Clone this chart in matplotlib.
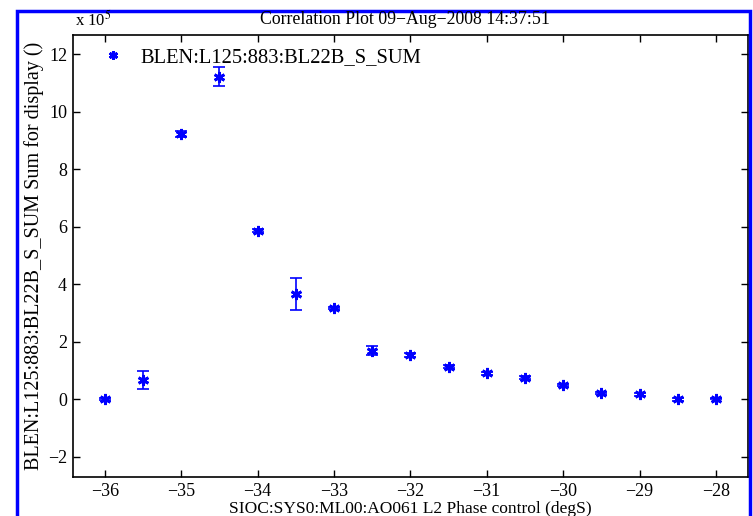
import numpy as np
import matplotlib
matplotlib.use("Agg")
import matplotlib.pyplot as plt
from matplotlib.patches import Rectangle

plt.rcParams['font.family'] = ['Liberation Serif', 'DejaVu Serif']
plt.rcParams['mathtext.fontset'] = 'stix'

# phase scan (degS) and bunch length sum (x 1e5)
phase = [-36, -35.5, -35, -34.5, -34, -33.5, -33, -32.5, -32, -31.5,
         -31, -30.5, -30, -29.5, -29, -28.5, -28]
blen = [0.0, 0.66, 9.21, 11.21, 5.86, 3.65, 3.18, 1.68, 1.53, 1.12,
        0.89, 0.74, 0.49, 0.20, 0.17, -0.01, 0.02]
blen_err = [0.03, 0.30, 0.10, 0.33, 0.05, 0.55, 0.04, 0.16, 0.08, 0.05,
            0.04, 0.05, 0.04, 0.04, 0.05, 0.04, 0.03]

series = "BLEN:L125:883:BL22B_S_SUM"
title = "Correlation Plot 09\u2212Aug\u22122008 14:37:51"
xlab = "SIOC:SYS0:ML00:AO061 L2 Phase control (degS)"
ylab = "BLEN:L125:883:BL22B_S_SUM Sum for display ()"

fig = plt.figure(figsize=(7.53, 5.16), dpi=100)
ax = fig.add_axes([0.0965, 0.0756, 0.8969, 0.8575])

ax.errorbar(phase, blen, yerr=blen_err, fmt='none', ecolor='#0000ff',
            elinewidth=1.2, capsize=4.5, capthick=1.2)
ax.plot(phase, blen, linestyle='none', marker=(6, 2, 0), color='#0000ff',
        markersize=8, markeredgewidth=2.0, label=series)

ax.set_xlim(-36.42, -27.58)
ax.set_ylim(-2.71, 12.68)
ax.set_xticks(np.arange(-36, -27, 1))
ax.set_yticks(np.arange(-2, 13, 2))
ax.set_xticklabels([str(v).replace('-', '\u2212') for v in range(-36, -27)])
ax.set_yticklabels([str(v).replace('-', '\u2212') for v in range(-2, 13, 2)])
ax.tick_params(direction='in', top=True, right=True, length=5, width=1,
               labelsize=13, pad=4)
for s in ax.spines.values():
    s.set_linewidth(1.2)

leg = ax.legend(loc='upper left', bbox_to_anchor=(0.025, 1.0), frameon=False,
                handlelength=1.0, handletextpad=0.85, fontsize=14.8,
                borderaxespad=0.25, markerscale=0.8)

fig.text(0.538, 0.963, title, ha='center', va='center', fontsize=12.8)
fig.text(0.100, 0.962, r"x 10$^5$", ha='left', va='center', fontsize=12)
ax.set_xlabel(xlab, fontsize=12.5, labelpad=1)
ax.set_ylabel(ylab, fontsize=14.5, labelpad=3)

# blue frame around the figure
fig.patches.append(Rectangle((17 / 753, -0.05), (750 - 17) / 753, 1.05 - 11 / 516,
                             transform=fig.transFigure, fill=False,
                             edgecolor='#0000ff', linewidth=2.5))

fig.savefig("out.png", dpi=100)
